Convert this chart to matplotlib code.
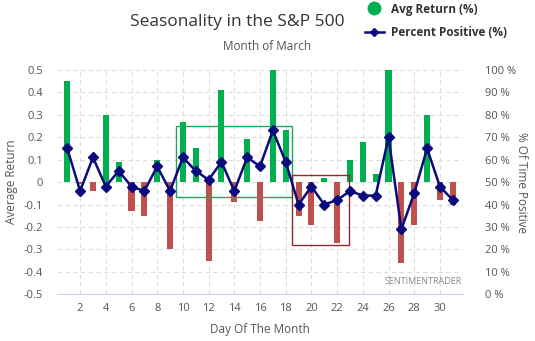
import numpy as np
import matplotlib
matplotlib.use("Agg")
import matplotlib.pyplot as plt
from matplotlib.patches import Rectangle
from matplotlib.lines import Line2D

plt.rcParams['font.family'] = ['Open Sans', 'DejaVu Sans']

days = list(range(1, 32))
avg_return = [0.45, -0.01, -0.04, 0.30, 0.09, -0.13, -0.15, 0.10, -0.30, 0.27,
              0.15, -0.35, 0.41, -0.09, 0.19, -0.175, 0.50, 0.23, -0.15, -0.19,
              0.02, -0.27, 0.10, 0.18, 0.035, 0.50, -0.36, -0.19, 0.30, -0.08, -0.10]
pct_positive = [65, 46, 61, 48, 55, 48, 46, 57, 46, 61,
                55, 51, 59, 46, 61, 57, 73, 59, 40, 48,
                40, 42, 46, 44, 44, 70, 29, 45, 65, 48, 42]
left_ticks = [0.5, 0.4, 0.3, 0.2, 0.1, 0, -0.1, -0.2, -0.3, -0.4, -0.5]
left_labels = ['0.5', '0.4', '0.3', '0.2', '0.1', '0', '-0.1', '-0.2', '-0.3', '-0.4', '-0.5']
right_ticks = list(range(0, 101, 10))
x_ticks = list(range(2, 31, 2))

green = '#00b050'
red = '#c0504d'
navy = '#0b0b7d'
text_col = '#555555'

fig = plt.figure(figsize=(5.35, 3.41), dpi=100)
ax = fig.add_axes([0.1065, 0.137, 0.759, 0.658])

colors = [green if v >= 0 else red for v in avg_return]
ax.bar(days, avg_return, width=0.47, color=colors, zorder=2)
ax.set_xlim(0.2, 31.8)
ax.set_ylim(-0.5, 0.5)
ax.set_yticks(left_ticks)
ax.set_yticklabels(left_labels)
ax.set_xticks(x_ticks)
ax.grid(True, color='#dddddd', linestyle=(0, (4, 3)), linewidth=0.8, zorder=0)
for s in ['top', 'right', 'left']:
    ax.spines[s].set_visible(False)
ax.spines['bottom'].set_color('#ccd6eb')
ax.tick_params(axis='both', length=0, labelsize=8, colors=text_col)
ax.tick_params(axis='x', pad=6)
ax.tick_params(axis='y', pad=10)
ax.set_xlabel('Day Of The Month', fontsize=8.5, color=text_col, labelpad=7)
ax.set_ylabel('Average Return', fontsize=8.5, color=text_col, labelpad=4)

# highlight boxes
ax.add_patch(Rectangle((9.5, -0.068), 9.0, 0.318, fill=False, edgecolor='#1aa85a',
                       linewidth=1.0, zorder=3))
ax.add_patch(Rectangle((18.5, -0.279), 4.4, 0.312, fill=False, edgecolor='#8b2a2a',
                       linewidth=1.0, zorder=3))

ax2 = ax.twinx()
ax2.plot(days, pct_positive, color=navy, linewidth=1.8, marker='D', markersize=5, zorder=4)
ax2.set_ylim(0, 100)
ax2.set_yticks(right_ticks)
ax2.set_yticklabels([f'{t} %' for t in right_ticks])
for s in ['top', 'right', 'left', 'bottom']:
    ax2.spines[s].set_visible(False)
ax2.tick_params(axis='y', length=0, labelsize=8, colors=text_col, pad=16)
ax2.set_ylabel('% Of Time Positive', fontsize=8.5, color=text_col, rotation=270, labelpad=8)

ax.text(0.997, 0.058, 'SENTIMENTRADER', transform=ax.transAxes, fontsize=6.5,
        color='#888888', ha='right', va='center', zorder=5)

fig.text(237 / 535, 1 - 22 / 341, 'Seasonality in the S&P 500', fontsize=12.5,
         color='#333333', ha='center', va='center')
fig.text(267 / 535, 1 - 47 / 341, 'Month of March', fontsize=8.5,
         color=text_col, ha='center', va='center')

handles = [Line2D([], [], linestyle='none', marker='o', markersize=9, color=green),
           Line2D([], [], color=navy, linewidth=1.8, marker='D', markersize=4)]
fig.legend(handles, ['Avg Return (%)', 'Percent Positive (%)'], loc='upper left',
           bbox_to_anchor=(354 / 535, 1 + 8 / 341), frameon=False,
           prop={'weight': 'bold', 'size': 8.5}, labelcolor='#333333',
           handlelength=1.6, handletextpad=0.6, labelspacing=0.9)

fig.savefig('out.png', dpi=100, facecolor='white')
